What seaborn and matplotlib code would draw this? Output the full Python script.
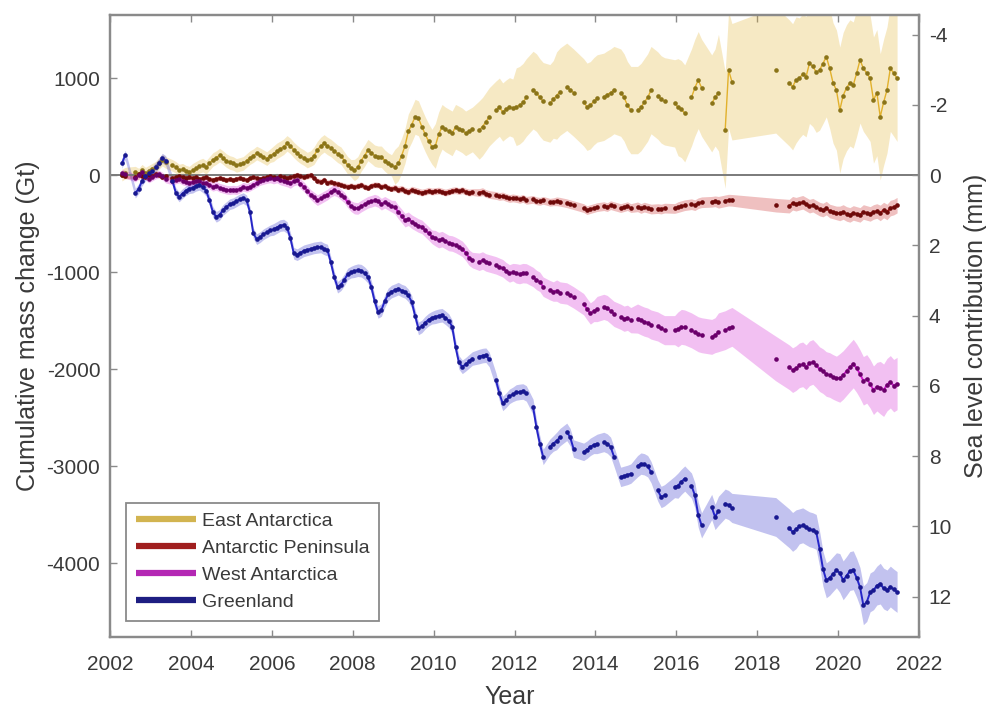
import numpy as np
import pandas as pd
import matplotlib
matplotlib.use("Agg")
import matplotlib.pyplot as plt
from matplotlib.lines import Line2D
import seaborn as sns

nan = np.nan

# Monthly solution periods of the two gravity missions
grace_span = ("2002-04", "2017-06")
gracefo_span = ("2018-06", "2021-06")

# Cumulative mass change (Gt) per month; nan marks months without a solution
# GRACE: Apr 2002 .. Jun 2017
greenland_grace = [
    120, 206, nan, nan, -186, -140, -60, -10, 20,
    40, 80, 124, 175, 150, nan, -60, -180, -225, -190, -160, -140,
    -130, -110, -100, -124, -160, -260, -380, -430, -410, -360, -330, -300,
    -290, -270, -250, -237, -260, -380, -600, -660, -640, -610, -590, -570,
    -560, -540, -520, -515, -540, -650, -806, -820, -800, -780, -770, -760,
    -750, -745, -740, -760, -773, -900, -1050, -1155, -1130, -1080, -1020, -1000,
    -990, -980, -985, -1010, -1048, -1150, -1300, -1410, -1390, -1300, -1230, -1200,
    -1186, -1170, -1190, -1203, -1240, -1306, -1450, -1580, -1560, -1520, -1490, -1470,
    -1460, -1450, -1444, -1470, -1500, -1563, -1770, -1930, -1976, -1950, -1920, -1890,
    nan, -1870, -1860, -1856, -1900, nan, -2114, -2250, -2353, -2320, -2280, -2260,
    -2240, -2234, -2230, -2250, nan, -2389, -2600, -2766, -2904, nan, -2800, -2766,
    -2740, -2700, nan, -2646, -2700, -2818, nan, nan, -2852, -2830, -2800, -2780,
    -2770, nan, -2750, -2766, -2800, -2900, nan, -3110, -3100, -3090, -3076, nan,
    -3000, -2973, -2980, -3000, -3060, nan, -3250, -3317, -3300, nan, nan, -3214,
    -3200, -3160, -3127, nan, -3200, -3299, -3500, -3609, nan, nan, -3420, -3523,
    -3460, nan, -3385, -3400, -3430, nan,
]
west_grace = [
    20, 10, nan, nan, -30, 0, 30, -10, -40,
    -20, 0, 10, -10, -40, nan, -60, -50, -40, -60, -70, -80,
    -70, -60, -65, -85, -80, -100, -120, -110, -130, -140, -150, -155,
    -150, -155, -140, -120, -130, -120, -100, -80, -60, -50, -40, -34,
    -40, -30, -50, -60, -70, -86, -60, -50, -90, -120, -160, -200,
    -230, -258, -240, -220, -200, -172, -155, -170, -200, -230, -280, -320,
    -340, -344, -320, -300, -280, -270, -258, -270, -300, -280, -300, -320,
    -330, -380, -420, -464, -450, -480, -500, -520, -533, -567, -600, -636,
    -650, -670, -660, -680, -700, -705, -720, -739, -760, -800, -850, -876,
    nan, -893, -880, -900, -910, nan, -930, -945, -960, -990, -1013, -1000,
    -1013, -1020, -1010, -1013, nan, -1050, -1080, -1100, -1150, nan, -1186, -1200,
    -1190, -1210, nan, -1220, -1240, -1260, nan, nan, -1330, -1380, -1426, -1400,
    -1380, nan, -1358, -1370, -1400, -1430, nan, -1460, -1480, -1470, -1495, nan,
    -1478, -1495, -1510, -1520, -1540, nan, -1560, -1580, -1598, nan, nan, -1598,
    -1590, -1564, -1570, nan, -1600, -1620, -1640, -1650, nan, nan, -1667, -1650,
    -1620, nan, -1598, -1580, -1564, nan,
]
peninsula_grace = [
    0, -10, nan, nan, -20, 10, -10, -20, 0,
    -10, 10, 0, -20, -10, nan, -30, -20, -10, -20, -30, -20,
    -30, -20, -40, -30, -20, -40, -50, -40, -30, -40, -50, -40,
    -50, -40, -30, -40, -50, -30, -20, -30, -40, -30, -20, -10,
    -20, -30, -10, -20, -30, -20, -10, 0, -10, -20, -10, 0,
    -30, -60, -69, -50, -80, -70, -86, -90, -100, -110, -120, -110,
    -120, -110, -100, -120, -130, -110, -100, -103, -120, -110, -130, -140,
    -130, -150, -140, -160, -172, -150, -160, -170, -180, -172, -160, -170,
    -165, -160, -170, -180, -170, -160, -155, -165, -155, -170, -180, -175,
    nan, -180, -170, -190, -200, nan, -210, -220, -215, -230, -241, -235,
    -241, -250, -240, -260, nan, -250, -265, -270, -260, nan, -280, -275,
    -270, -275, nan, -290, -300, -310, nan, nan, -340, -361, -350, -340,
    -330, nan, -320, -330, -310, -320, nan, -340, -330, -320, -340, nan,
    -327, -344, -330, -340, -350, nan, -345, -350, -340, nan, nan, -344,
    -330, -320, -310, nan, -300, -310, -290, -280, nan, nan, -275, -270,
    -280, nan, -265, -258, -260, nan,
]
east_grace = [
    0, 20, nan, nan, 30, 10, 50, 20, 40,
    60, 80, 120, 155, 130, nan, 100, 80, 52, 60, 40, 30,
    50, 70, 90, 103, 80, 120, 160, 180, 206, 180, 150, 130,
    120, 100, 110, 120, 150, 180, 200, 227, 210, 190, 170, 200,
    220, 250, 270, 292, 327, 300, 260, 227, 200, 180, 155, 170,
    200, 258, 300, 327, 300, 280, 250, 220, 200, 150, 100, 70,
    52, 80, 150, 200, 258, 230, 200, 190, 189, 150, 120, 100,
    86, 120, 200, 300, 450, 520, 601, 585, 500, 420, 350, 292,
    300, 420, 498, 470, 450, 430, 498, 480, 460, 430, 450, 470,
    nan, 464, 500, 550, 600, nan, 670, 700, 650, 680, 704, 690,
    704, 720, 750, 800, nan, 876, 850, 800, 760, nan, 739, 780,
    820, 860, nan, 910, 880, 850, nan, nan, 750, 704, 720, 760,
    790, nan, 807, 830, 850, 876, nan, 850, 800, 720, 670, nan,
    670, 700, 750, 800, 876, nan, 820, 780, 760, nan, nan, 739,
    700, 680, 636, nan, 800, 900, 979, 900, nan, nan, 739, 800,
    850, nan, 464, 1083, 962, nan,
]

# GRACE-FO: Jun 2018 .. Jun 2021
greenland_fo = [
    -3523, nan, nan, nan, -3640, -3677, -3650,
    -3620, -3609, -3630, -3650, -3660, -3677, -3849, -4055, -4176, -4150, -4110, -4072,
    -4100, -4176, -4130, -4080, -4072, -4150, -4245, -4433, -4400, -4300, -4279, -4230,
    -4210, -4260, -4279, -4240, -4270, -4296,
]
west_fo = [
    -1890, nan, nan, nan, -1980, -2010, -1990,
    -1960, -1950, -1980, -1940, -1925, -1960, -2000, -2020, -2050, -2060, -2080, -2096,
    -2090, -2060, -2020, -1980, -1942, -1990, -2050, -2120, -2100, -2150, -2217, -2180,
    -2190, -2217, -2160, -2130, -2170, -2148,
]
peninsula_fo = [
    -310, nan, nan, nan, -320, -290, -300,
    -290, -280, -300, -320, -310, -330, -350, -360, -340, -370, -380, -390,
    -395, -380, -400, -410, -390, -400, -410, -380, -390, -400, -380, -370,
    -390, -360, -380, -340, -330, -310,
]
east_fo = [
    1083, nan, nan, nan, 950, 910, 980,
    1000, 1040, 1014, 1152, 1120, 1060, 1083, 1150, 1220, 1100, 950, 876,
    670, 820, 900, 950, 928, 1050, 1186, 1100, 1050, 997, 773, 850,
    601, 750, 876, 1100, 1050, 997,
]

# One-sigma uncertainty (Gt) per calendar year, 2002 .. 2021
sigma_years = list(range(2002, 2022))
greenland_sigma = [50, 50, 55, 55, 60, 60, 65, 65, 70, 75, 80, 90, 100, 110, 130, 150, 200, 180, 200, 210]
west_sigma = [40, 40, 45, 45, 50, 55, 60, 70, 80, 90, 100, 110, 130, 150, 180, 200, 230, 230, 250, 270]
peninsula_sigma = [25, 25, 25, 25, 30, 30, 30, 35, 35, 40, 40, 45, 45, 50, 55, 60, 70, 70, 75, 80]
east_sigma = [60, 60, 70, 70, 80, 90, 110, 180, 230, 300, 400, 450, 450, 450, 500, 600, 650, 620, 650, 650]

regions = ["East Antarctica", "Antarctic Peninsula", "West Antarctica", "Greenland"]
line_colors = ["#E2B12C", "#C81E1E", "#D21ED2", "#2626C8"]
line_widths = [1.0, 1.4, 1.4, 1.4]
dot_colors = ["#8A7418", "#6E0A0A", "#6A006A", "#181890"]
legend_colors = ["#D2B450", "#A01E1E", "#B428B4", "#1E1E82"]

GT_PER_MM = 362.0          # 362 Gt of ice = 1 mm of global sea level
YLIM = (-4760, 1650)
XLIM = (2002, 2022)


def decimal_months(span):
    p = pd.period_range(span[0], span[1], freq="M")
    return p.year + (p.month - 0.5) / 12.0


def series_frame(name, grace_vals, fo_vals, sigma):
    t = np.concatenate([decimal_months(grace_span), decimal_months(gracefo_span)])
    v = np.concatenate([np.asarray(grace_vals, float), np.asarray(fo_vals, float)])
    mission = np.r_[np.zeros(len(grace_vals)), np.ones(len(fo_vals))]
    df = pd.DataFrame({"year": t, "gt": v, "mission": mission})
    # contiguous runs of monthly solutions become separate line pieces
    df["piece"] = (df["gt"].isna() | (df["mission"].diff() != 0)).cumsum()
    df = df.dropna(subset=["gt"]).reset_index(drop=True)
    lookup = dict(zip(sigma_years, sigma))
    df["sigma"] = [lookup[int(y)] for y in df["year"]]
    df["region"] = name
    return df


frames = [
    series_frame(regions[0], east_grace, east_fo, east_sigma),
    series_frame(regions[1], peninsula_grace, peninsula_fo, peninsula_sigma),
    series_frame(regions[2], west_grace, west_fo, west_sigma),
    series_frame(regions[3], greenland_grace, greenland_fo, greenland_sigma),
]

sns.set_theme(style="white")
plt.rcParams["font.family"] = ["Liberation Sans", "DejaVu Sans"]
plt.rcParams["axes.unicode_minus"] = False
TEXT = "#3a3a3a"
SPINE = "#8a8a8a"

fig = plt.figure(figsize=(9.87, 7.10), dpi=100)
ax = fig.add_axes([0.1115, 0.1028, 0.8196, 0.8761])

# uncertainty envelopes
for df, col in zip(frames, line_colors):
    ax.fill_between(df["year"], df["gt"] - df["sigma"], df["gt"] + df["sigma"],
                    color=col, alpha=0.28, lw=0, zorder=1)

ax.axhline(0, color="#7a7a7a", lw=1.4, zorder=1.5)

# monthly solutions: connecting lines and dots
for df, col, lw, dcol in zip(frames, line_colors, line_widths, dot_colors):
    sns.lineplot(data=df, x="year", y="gt", units="piece", estimator=None,
                 sort=False, color=col, lw=lw, legend=False, ax=ax, zorder=2)
    sns.scatterplot(data=df, x="year", y="gt", color=dcol, s=11, linewidth=0,
                    legend=False, ax=ax, zorder=3)

ax.set_xlim(*XLIM)
ax.set_ylim(*YLIM)
ax.set_xticks(np.arange(2002, 2023, 2))
ax.set_yticks([-4000, -3000, -2000, -1000, 0, 1000])
ax.set_xlabel("Year", fontsize=18, color=TEXT)
ax.set_ylabel("Cumulative mass change (Gt)", fontsize=18, color=TEXT)
ax.xaxis.set_label_coords(0.494, -0.077)
ax.yaxis.set_label_coords(-0.087, 0.5)
ax.tick_params(axis="both", direction="in", length=5, width=1.0, color=SPINE,
               labelsize=15, labelcolor=TEXT, pad=7)
ax.tick_params(axis="x", top=True, bottom=True, pad=13)
ax.tick_params(axis="y", left=True, right=False)
for s in ax.spines.values():
    s.set_color(SPINE)
    s.set_linewidth(1.6)

# sea-level equivalent on the right
ax2 = ax.twinx()
ax2.set_ylim(-YLIM[0] / GT_PER_MM, -YLIM[1] / GT_PER_MM)
ax2.set_yticks(np.arange(-4, 13, 2))
ax2.set_ylabel("Sea level contribution (mm)", fontsize=18, color=TEXT)
ax2.yaxis.set_label_coords(1.056, 0.5)
ax2.tick_params(axis="y", direction="in", length=5, width=1.0, color=SPINE,
                labelsize=15, labelcolor=TEXT, pad=7, right=True, left=False)
for s in ax2.spines.values():
    s.set_color(SPINE)
    s.set_linewidth(1.6)
ax2.grid(False)

handles = [Line2D([0], [0], color=c, lw=4.5, solid_capstyle="butt") for c in legend_colors]
leg = ax.legend(handles, regions, loc="lower left", bbox_to_anchor=(0.02, 0.026),
                borderaxespad=0, fontsize=14, frameon=True, fancybox=False,
                framealpha=1, edgecolor=SPINE, handlelength=3.1, handletextpad=0.3,
                labelspacing=0.48, borderpad=0.5)
leg.get_frame().set_linewidth(1.3)
for txt in leg.get_texts():
    txt.set_color(TEXT)

fig.savefig("out.png", dpi=100, facecolor="white")
